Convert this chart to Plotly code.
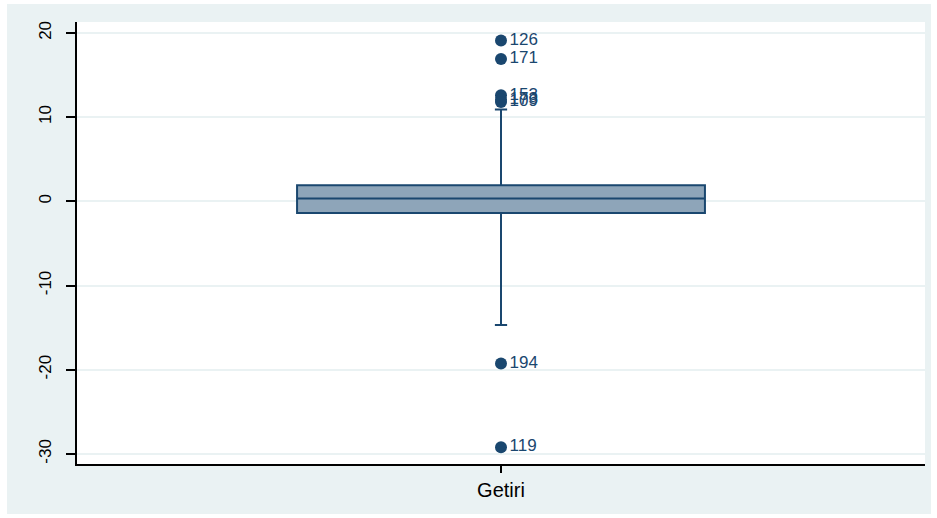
import plotly.graph_objects as go

# Data
category = ["Getiri"]
q1 = [-1.4]
median = [0.35]
q3 = [1.9]
lower_whisker = [-14.7]
upper_whisker = [10.9]

outlier_ids = ["126", "171", "153", "173", "109", "194", "119"]
outlier_vals = [19.1, 16.9, 12.6, 12.1, 11.8, -19.25, -29.2]

y_ticks = [-30, -20, -10, 0, 10, 20]

NAVY = "#1a476f"
BG = "#eaf2f3"
FONT = "Liberation Sans, Arial, sans-serif"

fig = go.Figure()

fig.add_trace(go.Box(
    x=category,
    q1=q1, median=median, q3=q3,
    lowerfence=lower_whisker, upperfence=upper_whisker,
    boxpoints=False,
    fillcolor="#8ea5b9",
    line=dict(color=NAVY, width=2),
    width=0.481,
    whiskerwidth=0.03,
    showlegend=False,
    hoverinfo="skip",
))

fig.add_trace(go.Scatter(
    x=category * len(outlier_vals),
    y=outlier_vals,
    mode="markers+text",
    text=["  " + t if False else t for t in outlier_ids],
    textposition="middle right",
    textfont=dict(family=FONT, size=17, color=NAVY),
    marker=dict(color=NAVY, size=12),
    showlegend=False,
    cliponaxis=False,
))

W, H = 937, 518
L, R, T, B = 77, 12, 22, 54
pw, ph = W - L - R, H - T - B

def px_x(p):
    return (p - L) / pw

def px_y(p):
    return (H - B - p) / ph

fig.add_shape(type="rect", xref="paper", yref="paper",
              x0=px_x(7), x1=px_x(931), y0=px_y(514), y1=px_y(4),
              fillcolor=BG, line=dict(width=0), layer="below")
fig.add_shape(type="rect", xref="paper", yref="paper",
              x0=0, x1=1, y0=0, y1=1,
              fillcolor="white", line=dict(width=0), layer="below")

fig.update_layout(
    width=W, height=H,
    margin=dict(l=L, r=R, t=T, b=B),
    paper_bgcolor="white",
    plot_bgcolor="white",
    font=dict(family=FONT, color="#000000"),
    showlegend=False,
)

fig.update_xaxes(
    type="category",
    range=[-0.5, 0.5],
    showline=True, linecolor="#000000", linewidth=1.5,
    ticks="outside", ticklen=7, tickcolor="#000000", tickwidth=1.5,
    showgrid=False, zeroline=False,
    tickfont=dict(family=FONT, size=20, color="#000000"),
)

fig.update_yaxes(
    range=[-31.2, 21.3],
    tickvals=y_ticks,
    ticktext=[str(v) for v in y_ticks],
    tickangle=-90,
    showline=True, linecolor="#000000", linewidth=1.5,
    ticks="outside", ticklen=9, tickcolor="#000000", tickwidth=1.5,
    ticklabelstandoff=8,
    showgrid=True, gridcolor=BG, gridwidth=1.5,
    zeroline=False,
    tickfont=dict(family=FONT, size=17, color="#000000"),
)

fig.write_html("out.html")
